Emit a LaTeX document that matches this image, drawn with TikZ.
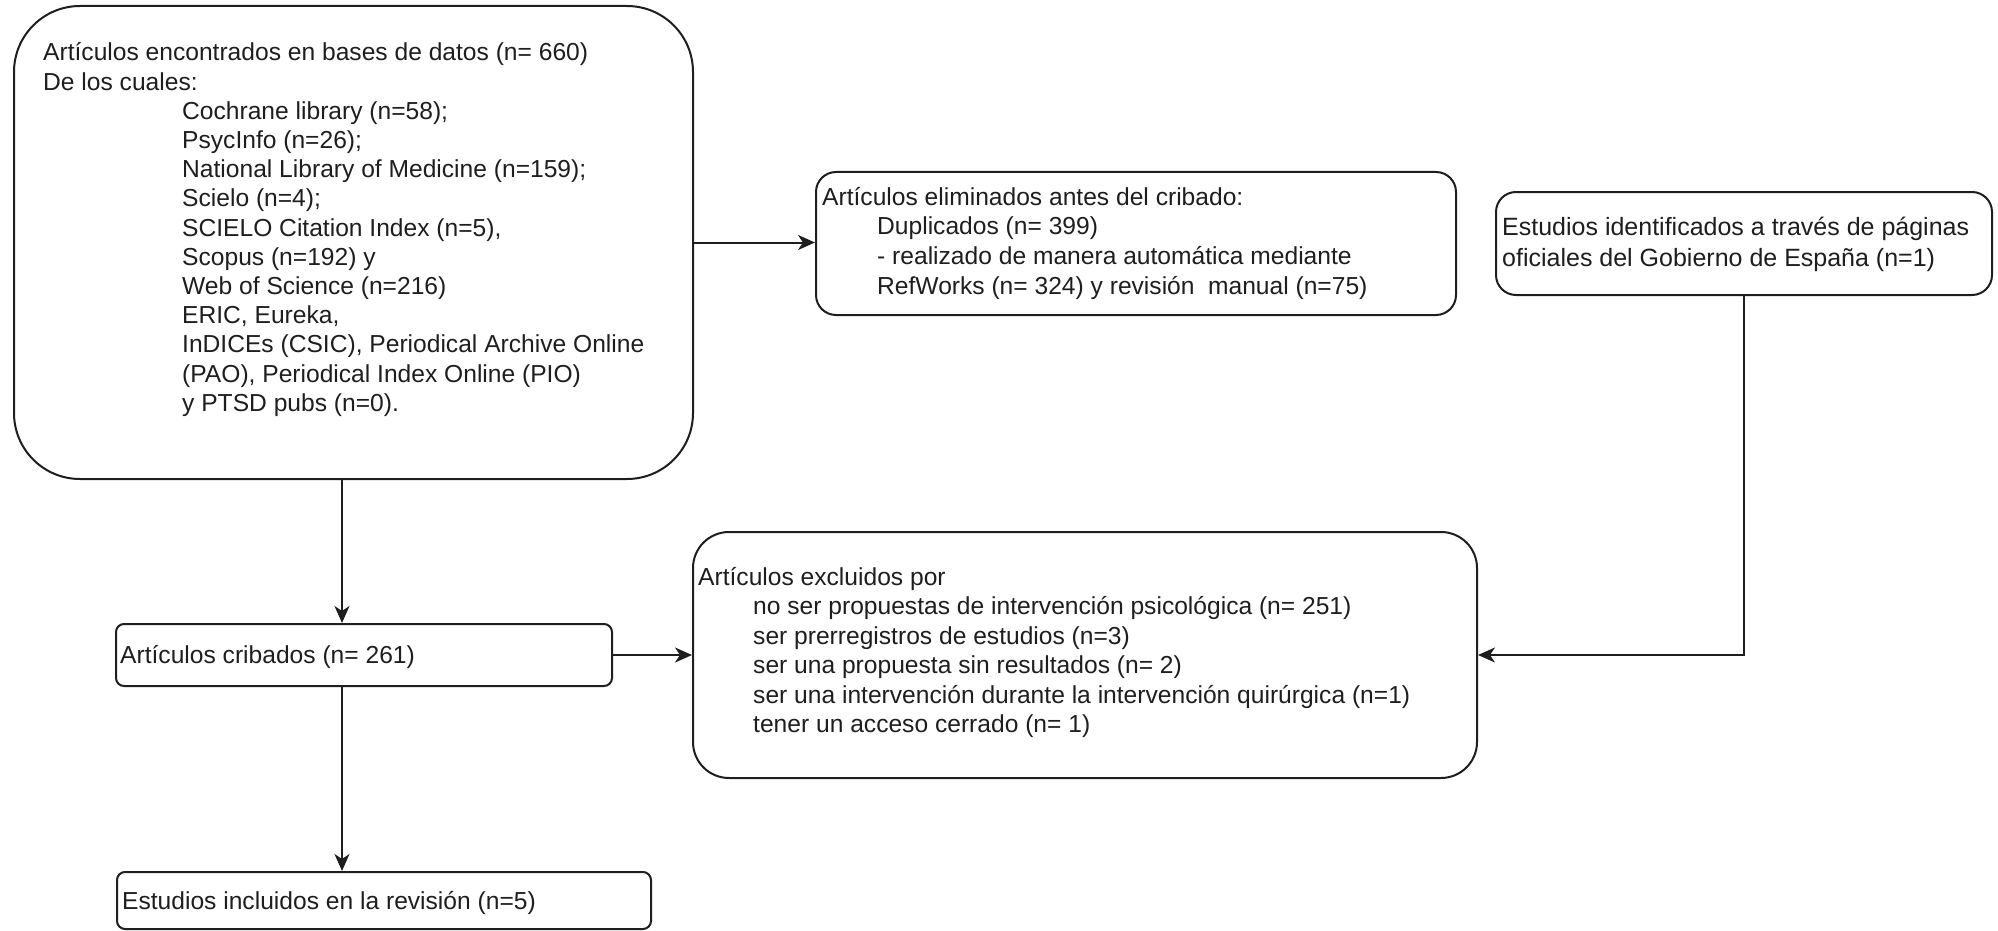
\documentclass[tikz,border=0pt]{standalone}
\usepackage{fontspec}
\setmainfont{Liberation Sans}
\usetikzlibrary{arrows.meta}
\definecolor{ink}{RGB}{30,30,30}
\begin{document}
\begin{tikzpicture}[x=1pt,y=-1pt,
  box/.style={draw=ink, line width=2pt, inner sep=0pt},
  txt/.style={anchor=base west, inner sep=0pt, text=ink},
  arr/.style={draw=ink, line width=2pt, -{Stealth[length=17pt,width=15pt,inset=5pt]}}]
\useasboundingbox (0,0) rectangle (1998,931);
% boxes
\node[box, rounded corners=66pt, minimum width=679pt, minimum height=473pt] (A) at (353.5,242.5) {};
\node[box, rounded corners=20pt, minimum width=640pt, minimum height=143pt] (B) at (1136,243.5) {};
\node[box, rounded corners=20pt, minimum width=496pt, minimum height=103pt] (C) at (1744,243.5) {};
\node[box, rounded corners=8pt, minimum width=496pt, minimum height=62pt] (D) at (364,655) {};
\node[box, rounded corners=36pt, minimum width=784pt, minimum height=246pt] (E) at (1085,655) {};
\node[box, rounded corners=8pt, minimum width=534pt, minimum height=57pt] (F) at (384,900.5) {};
% texts
\node[txt, font=\fontsize{24.6}{29.2}\selectfont] (At) at (43,61) {\parbox[t]{700pt}{%
Artículos encontrados en bases de datos (n= 660)\\
De los cuales:\\
\hspace*{139pt}Cochrane library (n=58);\\
\hspace*{139pt}PsycInfo (n=26);\\
\hspace*{139pt}National Library of Medicine (n=159);\\
\hspace*{139pt}Scielo (n=4);\\
\hspace*{139pt}SCIELO Citation Index (n=5),\\
\hspace*{139pt}Scopus (n=192) y\\
\hspace*{139pt}Web of Science (n=216)\\
\hspace*{139pt}ERIC, Eureka,\\
\hspace*{139pt}InDICEs (CSIC), Periodical Archive Online\\
\hspace*{139pt}(PAO), Periodical Index Online (PIO)\\
\hspace*{139pt}y PTSD pubs (n=0).}};
\node[txt, font=\fontsize{24.6}{29.8}\selectfont] (Bt) at (822,205) {\parbox[t]{700pt}{%
Artículos eliminados antes del cribado:\\
\hspace*{55pt}Duplicados (n= 399)\\
\hspace*{55pt}- realizado de manera automática mediante\\
\hspace*{55pt}RefWorks (n= 324) y revisión\hspace{0.55em}manual (n=75)}};
\node[txt, font=\fontsize{25}{31.7}\selectfont] (Ct) at (1502,235) {\parbox[t]{600pt}{%
Estudios identificados a través de páginas\\
oficiales del Gobierno de España (n=1)}};
\node[txt, font=\fontsize{24.6}{29.2}\selectfont] (Dt) at (120,663) {Artículos cribados (n= 261)};
\node[txt, font=\fontsize{24.6}{29.5}\selectfont] (Et) at (698,585) {\parbox[t]{800pt}{%
Artículos excluidos por\\
\hspace*{55pt}no ser propuestas de intervención psicológica (n= 251)\\
\hspace*{55pt}ser prerregistros de estudios (n=3)\\
\hspace*{55pt}ser una propuesta sin resultados (n= 2)\\
\hspace*{55pt}ser una intervención durante la intervención quirúrgica (n=1)\\
\hspace*{55pt}tener un acceso cerrado (n= 1)}};
\node[txt, font=\fontsize{24.6}{29.2}\selectfont] (Ft) at (122,909) {Estudios incluidos en la revisión (n=5)};
% connectors
\coordinate (vx) at (342,0);
\draw[arr] (A.east) -- (A.east -| B.west);
\draw[arr] (vx |- A.south) -- (vx |- D.north);
\draw[arr] (D.east) -- (D.east -| E.west);
\draw[arr] (vx |- D.south) -- (vx |- F.north);
\draw[arr] (C.south) |- (E.east);
\end{tikzpicture}
\end{document}
